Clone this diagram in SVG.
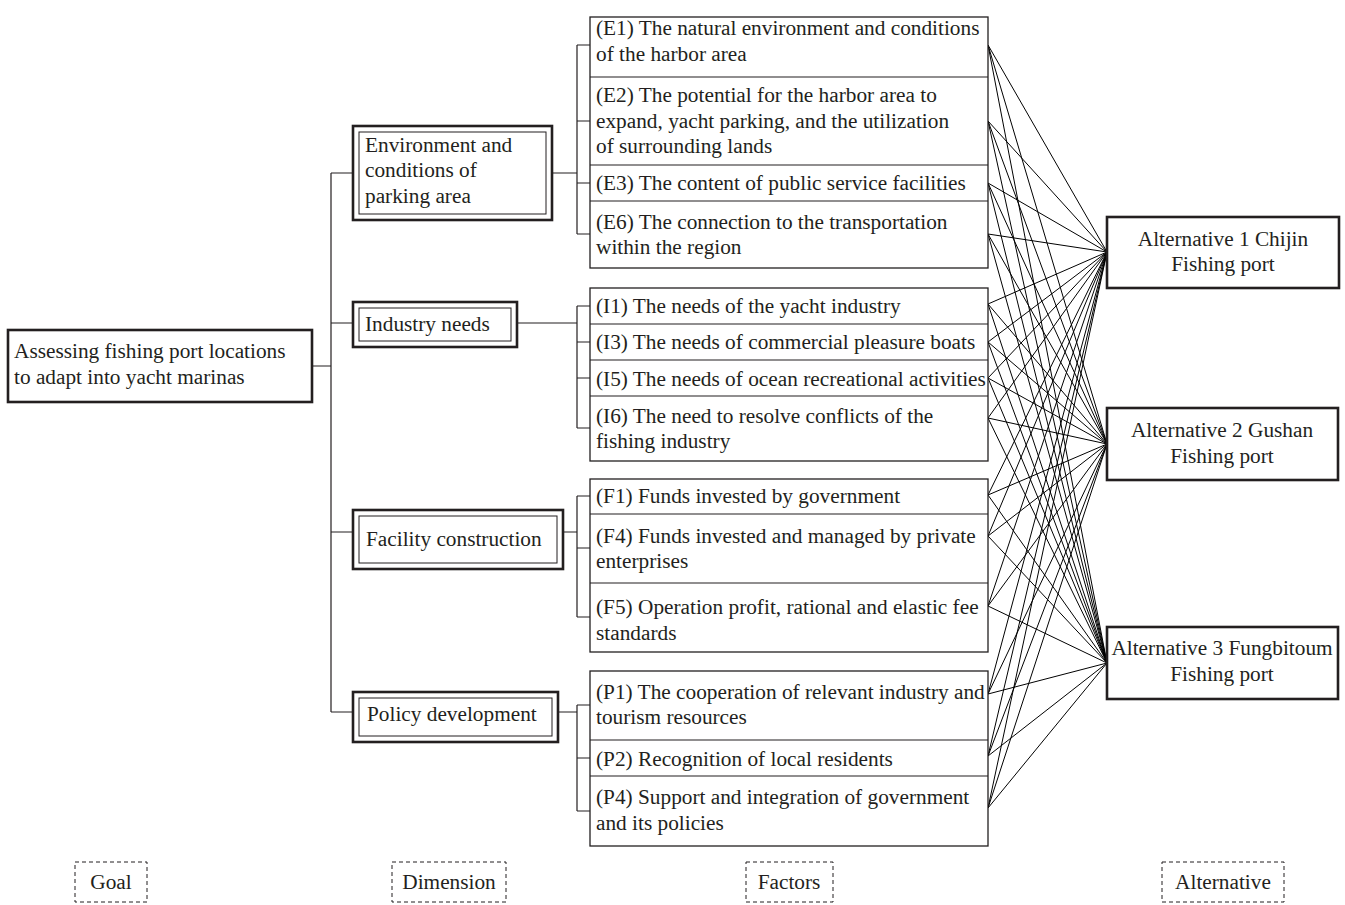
<svg xmlns="http://www.w3.org/2000/svg" width="1345" height="905" viewBox="0 0 1345 905">
<style>
text{font-family:"Liberation Serif","Times New Roman",serif;font-size:21.3px;fill:#231f20}
.box{fill:#fff;stroke:#231f20;stroke-width:1.3}
.thick{fill:#fff;stroke:#231f20;stroke-width:2.6}
.inner{fill:none;stroke:#231f20;stroke-width:1}
.dash{fill:none;stroke:#231f20;stroke-width:1;stroke-dasharray:4 3}
.ln{fill:none;stroke:#231f20;stroke-width:1.2}
.cl{fill:none;stroke:#000;stroke-width:1}
.mid{text-anchor:middle}
</style>
<g id="connectors">
<path class="ln" d="M312,366H331M331,173V712M331,173H353M331,323H353M331,532H353M331,712H353"/>
<path class="ln" d="M552,173H577M577,45V234M577,45H590M577,121H590M577,183H590M577,234H590"/>
<path class="ln" d="M517,323H577M577,306V428M577,306H590M577,342H590M577,378H590M577,428H590"/>
<path class="ln" d="M563,532H577M577,496V617M577,496H590M577,548H590M577,617H590"/>
<path class="ln" d="M558,712H577M577,705V811M577,705H590M577,758H590M577,811H590"/>
<g class="cl">
<path d="M988,45L1107,252M988,45L1107,444M988,45L1107,663"/>
<path d="M988,121L1107,252M988,121L1107,444M988,121L1107,663"/>
<path d="M988,183L1107,252M988,183L1107,444M988,183L1107,663"/>
<path d="M988,234L1107,252M988,234L1107,444M988,234L1107,663"/>
<path d="M988,304L1107,252M988,304L1107,444M988,304L1107,663"/>
<path d="M988,342L1107,252M988,342L1107,444M988,342L1107,663"/>
<path d="M988,378L1107,252M988,378L1107,444M988,378L1107,663"/>
<path d="M988,418L1107,252M988,418L1107,444M988,418L1107,663"/>
<path d="M988,495L1107,252M988,495L1107,444M988,495L1107,663"/>
<path d="M988,536L1107,252M988,536L1107,444M988,536L1107,663"/>
<path d="M988,606L1107,252M988,606L1107,444M988,606L1107,663"/>
<path d="M988,694L1107,252M988,694L1107,444M988,694L1107,663"/>
<path d="M988,756L1107,252M988,756L1107,444M988,756L1107,663"/>
<path d="M988,808L1107,252M988,808L1107,444M988,808L1107,663"/>
</g>
</g>
<g id="goal">
<rect class="thick" x="8" y="330" width="304" height="72"/>
<text x="14" y="358">Assessing fishing port locations</text>
<text x="14" y="384">to adapt into yacht marinas</text>
</g>
<g id="dim-env">
<rect class="thick" x="353" y="126" width="199" height="94"/>
<rect class="inner" x="359" y="132" width="187" height="82"/>
<text x="365" y="152">Environment and</text>
<text x="365" y="177">conditions of</text>
<text x="365" y="203">parking area</text>
</g>
<g id="dim-industry">
<rect class="thick" x="353" y="302" width="164" height="45"/>
<rect class="inner" x="359" y="308" width="152" height="33"/>
<text x="365" y="331">Industry needs</text>
</g>
<g id="dim-facility">
<rect class="thick" x="353" y="510" width="210" height="59"/>
<rect class="inner" x="359" y="516" width="198" height="47"/>
<text x="366" y="546">Facility construction</text>
</g>
<g id="dim-policy">
<rect class="thick" x="353" y="692" width="205" height="50"/>
<rect class="inner" x="359" y="698" width="193" height="38"/>
<text x="367" y="721">Policy development</text>
</g>
<g id="factors-env">
<rect class="box" x="590" y="17" width="398" height="251"/>
<path class="ln" d="M590,77H988M590,165H988M590,201H988"/>
<text x="596" y="35">(E1) The natural environment and conditions</text>
<text x="596" y="61">of the harbor area</text>
<text x="596" y="102">(E2) The potential for the harbor area to</text>
<text x="596" y="128">expand, yacht parking, and the utilization</text>
<text x="596" y="153">of surrounding lands</text>
<text x="596" y="190">(E3) The content of public service facilities</text>
<text x="596" y="229">(E6) The connection to the transportation</text>
<text x="596" y="254">within the region</text>
</g>
<g id="factors-industry">
<rect class="box" x="590" y="288" width="398" height="173"/>
<path class="ln" d="M590,324H988M590,360H988M590,396H988"/>
<text x="596" y="313">(I1) The needs of the yacht industry</text>
<text x="596" y="349">(I3) The needs of commercial pleasure boats</text>
<text x="596" y="386">(I5) The needs of ocean recreational activities</text>
<text x="596" y="423">(I6) The need to resolve conflicts of the</text>
<text x="596" y="448">fishing industry</text>
</g>
<g id="factors-facility">
<rect class="box" x="590" y="479" width="398" height="173"/>
<path class="ln" d="M590,514H988M590,583H988"/>
<text x="596" y="503">(F1) Funds invested by government</text>
<text x="596" y="543">(F4) Funds invested and managed by private</text>
<text x="596" y="568">enterprises</text>
<text x="596" y="614">(F5) Operation profit, rational and elastic fee</text>
<text x="596" y="640">standards</text>
</g>
<g id="factors-policy">
<rect class="box" x="590" y="671" width="398" height="175"/>
<path class="ln" d="M590,740H988M590,776H988"/>
<text x="596" y="699">(P1) The cooperation of relevant industry and</text>
<text x="596" y="724">tourism resources</text>
<text x="596" y="766">(P2) Recognition of local residents</text>
<text x="596" y="804">(P4) Support and integration of government</text>
<text x="596" y="830">and its policies</text>
</g>
<g id="alt1">
<rect class="thick" x="1107" y="217" width="232" height="71"/>
<text class="mid" x="1223" y="246">Alternative 1 Chijin</text>
<text class="mid" x="1223" y="271">Fishing port</text>
</g>
<g id="alt2">
<rect class="thick" x="1107" y="408" width="231" height="72"/>
<text class="mid" x="1222" y="437">Alternative 2 Gushan</text>
<text class="mid" x="1222" y="463">Fishing port</text>
</g>
<g id="alt3">
<rect class="thick" x="1107" y="627" width="231" height="72"/>
<text class="mid" x="1222" y="655">Alternative 3 Fungbitoum</text>
<text class="mid" x="1222" y="681">Fishing port</text>
</g>
<g id="label-goal">
<rect class="dash" x="75" y="862" width="72" height="40"/>
<text class="mid" x="111" y="889">Goal</text>
</g>
<g id="label-dimension">
<rect class="dash" x="392" y="862" width="114" height="40"/>
<text class="mid" x="449" y="889">Dimension</text>
</g>
<g id="label-factors">
<rect class="dash" x="746" y="862" width="87" height="40"/>
<text class="mid" x="789" y="889">Factors</text>
</g>
<g id="label-alternative">
<rect class="dash" x="1162" y="862" width="122" height="40"/>
<text class="mid" x="1223" y="889">Alternative</text>
</g>
</svg>
